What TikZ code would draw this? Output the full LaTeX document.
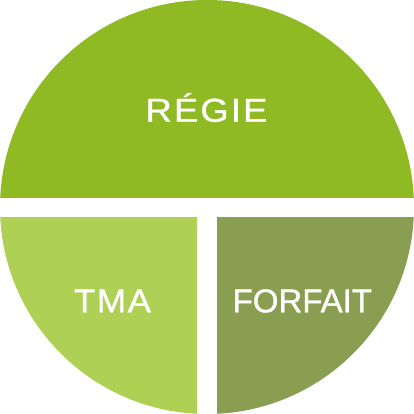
\documentclass[tikz,border=0pt]{standalone}
\usepackage{fontspec}
\setmainfont[FakeBold=1]{Liberation Sans}
\definecolor{topgreen}{RGB}{143,186,36}
\definecolor{leftgreen}{RGB}{174,208,84}
\definecolor{rightgreen}{RGB}{138,158,82}
\tikzset{lbl/.style={text=white, font=\fontsize{33}{40}\selectfont, inner sep=0pt, anchor=base}}
\begin{document}
\begin{tikzpicture}[x=1pt,y=-1pt]
\useasboundingbox (0,0) rectangle (414,414);
\begin{scope}
\clip (0,0) rectangle (414,197);
\fill[topgreen] (207,207) circle[radius=207];
\end{scope}
\begin{scope}
\clip (0,217) rectangle (197,414);
\fill[leftgreen] (207,207) circle[radius=207];
\end{scope}
\begin{scope}
\clip (217,217) rectangle (414,414);
\fill[rightgreen] (207,207) circle[radius=207];
\end{scope}
\node[lbl, xscale=1.1] (regie) at (206.5,121.7) {R\kern2ptÉ\kern2ptG\kern2ptI\kern2ptE};
\node[lbl, xscale=1.06] (tma) at (112.5,312.3) {T\kern1.5ptM\kern1.5ptA};
\node[lbl] (forfait) at (302.3,312.3) {FORFAIT};
\end{tikzpicture}
\end{document}
